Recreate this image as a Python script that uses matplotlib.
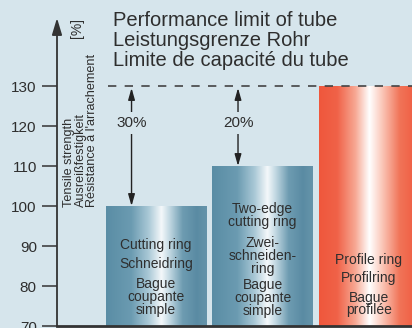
import numpy as np
import matplotlib.pyplot as plt
from matplotlib.colors import LinearSegmentedColormap

plt.rcParams['font.family'] = ['Liberation Sans', 'DejaVu Sans']

# ── data ──
ring_types = ['Cutting ring', 'Two-edge cutting ring', 'Profile ring']
strength = [100, 110, 130]          # tensile strength [%]
tube_limit = 130                     # performance limit of tube [%]
gain_labels = ['30%', '20%']
ring_labels = [
    ['Cutting ring', 'Schneidring', 'Bague\ncoupante\nsimple'],
    ['Two-edge\ncutting ring', 'Zwei-\nschneiden-\nring', 'Bague\ncoupante\nsimple'],
    ['Profile ring', 'Profilring', 'Bague\nprofilée'],
]
label_y = [
    [90.25, 85.5, 77.2],
    [97.6, 87.6, 77.0],
    [86.5, 82.0, 75.5],
]
yticks = [70, 80, 90, 100, 110, 120, 130]
title_lines = ['Performance limit of tube', 'Leistungsgrenze Rohr',
               'Limite de capacité du tube']
ylabel_lines = ['Tensile strength', 'Ausreißfestigkeit',
                "Résistance à l'arrachement"]

bg = '#d6e5ec'
ink = '#2e2e2e'
W, H = 412, 328

blue_cm = LinearSegmentedColormap.from_list('steel', [
    (0.00, '#5a8da5'), (0.25, '#6b9bb1'), (0.42, '#a9c8d6'),
    (0.55, '#f4f8fa'), (0.63, '#c2d8e2'), (0.76, '#6e9cb1'),
    (0.90, '#5a8ba3'), (1.00, '#6594aa')])
red_cm = LinearSegmentedColormap.from_list('red', [
    (0.00, '#ef573c'), (0.18, '#f06248'), (0.36, '#f7a893'),
    (0.50, '#ffffff'), (0.62, '#fbcabc'), (0.80, '#f17458'),
    (1.00, '#ef573c')])

fig = plt.figure(figsize=(W / 100, H / 100), dpi=100, facecolor=bg)
ax = fig.add_axes([57 / W, 2 / H, (W - 57) / W, 308 / H])
ax.set_facecolor(bg)

x = np.arange(len(strength))
width = 0.94
xlim = (-0.93, 2.404)
ylim = (70, 147)

bars = ax.bar(x, [s - ylim[0] for s in strength], width, bottom=ylim[0],
              color='none', edgecolor='none', zorder=2)
grad = np.linspace(0, 1, 256).reshape(1, -1)
for i, b in enumerate(bars):
    cm = red_cm if i == 2 else blue_cm
    im = ax.imshow(grad, cmap=cm, aspect='auto', zorder=2,
                   extent=[b.get_x(), b.get_x() + b.get_width(),
                           ylim[0], strength[i]])
    im.set_clip_path(b)

ax.set_xlim(*xlim)
ax.set_ylim(*ylim)

# limit line
ax.plot([-0.45, xlim[1]], [tube_limit, tube_limit], ls=(0, (5, 5)),
        color='#444444', lw=1.2, zorder=3)

# gain arrows
for i, lab in enumerate(gain_labels):
    ax.annotate('', xy=(i - 0.23, strength[i]), xytext=(i - 0.23, tube_limit - 0.5),
                arrowprops=dict(arrowstyle='<|-|>,head_length=0.7,head_width=0.2',
                                color='#222222', lw=1.0, shrinkA=0, shrinkB=0),
                zorder=4)
    ax.text(i - 0.23, 120.75, lab, ha='center', va='center', fontsize=11,
            color=ink, zorder=5,
            bbox=dict(boxstyle='square,pad=0.25', fc=bg, ec='none'))

# labels inside bars
for i, groups in enumerate(ring_labels):
    for txt, yy in zip(groups, label_y[i]):
        ax.text(x[i], yy, txt, ha='center', va='center', fontsize=10,
                color=ink, linespacing=0.9, zorder=5)

# axes styling
for s in ['top', 'right', 'left']:
    ax.spines[s].set_visible(False)
ax.spines['bottom'].set_linewidth(2)
ax.spines['bottom'].set_color('#333333')
ax.set_xticks([])
ax.set_yticks(yticks)
ax.tick_params(axis='y', length=11, width=1.1, color='#333333', pad=3.5,
               labelsize=11, labelcolor=ink)
ax.annotate('', xy=(xlim[0], ylim[1]), xytext=(xlim[0], ylim[0]),
            arrowprops=dict(arrowstyle='-|>,head_length=1.0,head_width=0.3',
                            color='#333333', lw=1.3, shrinkA=0, shrinkB=0),
            annotation_clip=False, zorder=6)

# headings
for k, t in enumerate(title_lines):
    fig.text(113 / W, 1 - (20 + 20 * k) / H, t, ha='left', va='center',
             fontsize=14.5, color=ink)
for k, t in enumerate(ylabel_lines):
    fig.text((69 + 11.5 * k) / W, 1 - 207 / H, t, ha='center', va='bottom',
             rotation=90, fontsize=9.1, color=ink)
fig.text(77 / W, 1 - 18 / H, '[%]', ha='center', va='top', rotation=90,
         fontsize=10, color=ink)

fig.savefig('out.png', dpi=100, facecolor=bg)
